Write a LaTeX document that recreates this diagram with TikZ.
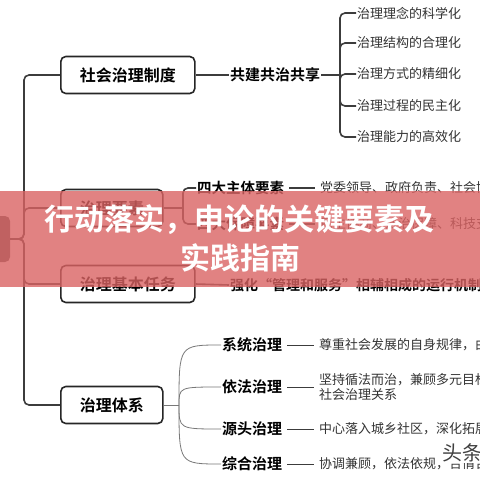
\documentclass[tikz,border=0pt]{standalone}
\usepackage{fontspec}
\setmainfont{Noto Sans CJK SC}[BoldFont={Noto Sans CJK SC Bold}]
\usetikzlibrary{positioning}
\definecolor{linegray}{RGB}{60,60,60}
\definecolor{twiggray}{RGB}{120,120,120}
\definecolor{bannerred}{RGB}{218,99,99}
\tikzset{
  mainbox/.style={draw=black!85, line width=1.6pt, rounded corners=5pt, anchor=west,
    font=\bfseries\fontsize{16}{18}\selectfont, inner xsep=19pt, inner ysep=0pt, minimum height=37pt},
  keytext/.style={font=\bfseries\fontsize{15}{17}\selectfont, anchor=west, inner sep=1pt},
  subtext/.style={font=\bfseries\fontsize{14.5}{17}\selectfont, anchor=west, inner sep=1pt},
  leaftext/.style={font=\fontsize{13}{15}\selectfont, anchor=west, inner sep=1pt, text=black!80, align=left},
  trunk/.style={draw=linegray, line width=1.6pt, rounded corners=5pt},
  twig/.style={draw=twiggray, line width=0.8pt},
  dashline/.style={draw=linegray, line width=0.8pt, shorten <=4pt, shorten >=4pt},
  bannertext/.style={font=\bfseries\fontsize{30}{32}\selectfont, text=white, inner sep=0pt},
}
\begin{document}
\begin{tikzpicture}[x=1pt,y=-1pt]
\useasboundingbox (0,0) rectangle (480,480);
\fill[white] (0,0) rectangle (480,480);

% root and first level
\node[fill=black!65, rounded corners=5pt, minimum width=50pt, minimum height=46pt] (root) at (-15,239) {};
\coordinate (fork) at (24,239);
\node[mainbox] (zhidu) at (60,75) {社会治理制度};
\node[mainbox] (yaosu) at (60,208) {治理要素};
\node[mainbox] (renwu) at (60,284) {治理基本任务};
\node[mainbox] (tixi) at (60,405) {治理体系};
\draw[trunk] (root.east) -- (fork) |- (zhidu.west);
\draw[trunk] (root.east) -- (fork) |- (yaosu.west);
\draw[trunk] (root.east) -- (fork) |- (renwu.west);
\draw[trunk] (root.east) -- (fork) |- (tixi.west);

% 社会治理制度
\node[keytext] (gongjian) at (229,75) {共建共治共享};
\draw[trunk] (zhidu.east) -- (gongjian.west);
\coordinate (brace1) at (340,75);
\draw[trunk] (gongjian.east) -- (brace1);
\foreach \name/\y/\txt in {linian/13/治理理念的科学化, jiegou/43/治理结构的合理化,
    fangshi/74/治理方式的精细化, guocheng/106/治理过程的民主化, nengli/137/治理能力的高效化} {
  \node[leaftext] (\name) at (356,\y) {\txt};
  \draw[trunk] (brace1) |- (\name.west);
}

% 治理要素
\coordinate (brace2) at (183,208);
\draw[trunk] (yaosu.east) -- (brace2);
\node[subtext] (zhuti) at (196,188) {四大主体要素};
\node[subtext] (baozhang) at (196,224) {四大保障要素};
\draw[trunk] (brace2) |- (zhuti.west);
\draw[trunk] (brace2) |- (baozhang.west);
\node[leaftext] (zhutidesc) at (319,188) {党委领导、政府负责、社会协同、公众参与};
\node[leaftext] (baozhangdesc) at (319,224) {民主协商、法治保障、科技支撑};
\draw[trunk, shorten <=4pt, shorten >=4pt] (zhuti.east) -- (zhutidesc.west);
\draw[trunk, shorten <=4pt, shorten >=4pt] (baozhang.east) -- (baozhangdesc.west);

% 治理基本任务
\node[subtext, font=\bfseries\fontsize{14}{16}\selectfont] (jizhi) at (229,285) {强化“管理和服务”相辅相成的运行机制};
\draw[trunk] (renwu.east) -- (jizhi.west);

% 治理体系
\coordinate (hub) at (179,405);
\draw[twig] (tixi.east) -- (hub);
\foreach \name/\y/\txt in {xitong/345/系统治理, yifa/387/依法治理, yuantou/429/源头治理, zonghe/464/综合治理} {
  \node[keytext] (\name) at (221,\y) {\txt};
  \draw[twig] (hub) .. controls (hub |- \name.west) .. (\name.west);
}
\node[leaftext] (xitongdesc) at (318,345) {尊重社会发展的自身规律，由政府单一管理};
\node[leaftext] (yifadesc) at (318,387) {坚持循法而治，兼顾多元目标，规范\\社会治理关系};
\node[leaftext] (yuantoudesc) at (318,429) {中心落入城乡社区，深化拓展网格化管理};
\node[leaftext] (zonghedesc) at (318,464) {协调兼顾，依法依规，合情合理};
\draw[dashline] (xitong.east) -- (xitongdesc.west);
\draw[dashline] (yifa.east) -- (yifadesc.west |- yifa.east);
\draw[dashline] (yuantou.east) -- (yuantoudesc.west);
\draw[dashline] (zonghe.east) -- (zonghedesc.west);

% watermark
\node[font=\fontsize{20}{20}\selectfont, text=black!75, fill=white, inner sep=1pt] (mark) at (462,453) {头条};

% banner
\fill[bannerred, opacity=0.8] (0,191) rectangle (480,287);
\node[bannertext] (title1) at (240,220) {行动落实，申论的关键要素及};
\node[bannertext] (title2) at (240,258) {实践指南};
\end{tikzpicture}
\end{document}
